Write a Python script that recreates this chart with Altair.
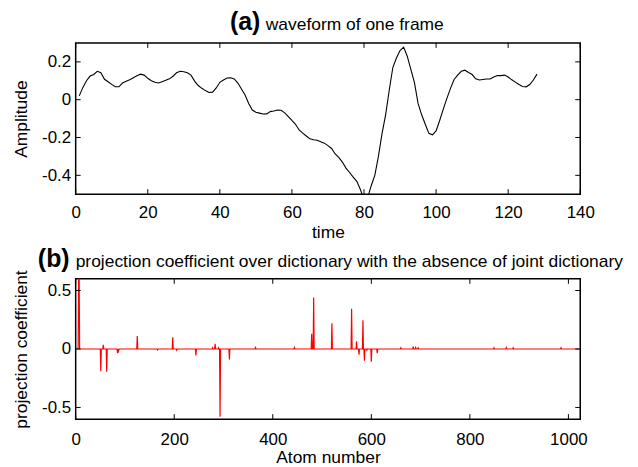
import altair as alt
import pandas as pd

# ---------------- data ----------------
time = list(range(1, 129))
amplitude = [
    0.020, 0.065, 0.100, 0.125, 0.133, 0.150, 0.143, 0.108, 0.095, 0.081,
    0.068, 0.068, 0.088, 0.097, 0.105, 0.116, 0.126, 0.135, 0.130, 0.113,
    0.100, 0.092, 0.088, 0.095, 0.103, 0.110, 0.124, 0.142, 0.150, 0.148,
    0.142, 0.130, 0.098, 0.075, 0.060, 0.048, 0.038, 0.040, 0.062, 0.092,
    0.104, 0.115, 0.116, 0.110, 0.088, 0.056, 0.025, -0.020, -0.055, -0.066,
    -0.071, -0.076, -0.075, -0.063, -0.060, -0.055, -0.056, -0.070, -0.089, -0.110,
    -0.130, -0.160, -0.177, -0.192, -0.207, -0.212, -0.215, -0.223, -0.230, -0.243,
    -0.258, -0.287, -0.305, -0.330, -0.362, -0.385, -0.410, -0.432, -0.475, -0.530,
    -0.520, -0.455, -0.400, -0.300, -0.180, -0.080, 0.050, 0.170, 0.220, 0.260,
    0.278, 0.230, 0.160, 0.090, -0.020, -0.080, -0.130, -0.178, -0.186, -0.165,
    -0.110, -0.050, 0.007, 0.060, 0.107, 0.130, 0.150, 0.156, 0.144, 0.133,
    0.110, 0.104, 0.107, 0.109, 0.109, 0.120, 0.128, 0.127, 0.130, 0.120,
    0.105, 0.093, 0.080, 0.070, 0.068, 0.080, 0.104, 0.135,
]

n_atoms = 1024
atom_index = [6, 7, 51, 56, 63, 85, 87, 125, 166, 197, 205, 244, 278, 283, 290,
              293, 312, 365, 444, 479, 483, 520, 560, 570, 575, 583, 586, 591,
              600, 612, 660, 685, 690, 695, 849, 874, 888, 985]
atom_coef = [0.68, 0.66, -0.19, 0.035, -0.195, -0.035, -0.015, 0.11, -0.008, 0.10,
             -0.01, -0.055, 0.01, 0.045, 0.01, -0.58, -0.09, 0.012, 0.012, 0.13,
             0.44, 0.22, 0.345, 0.065, -0.05, 0.245, -0.10, -0.01, -0.11, -0.035,
             0.01, 0.02, 0.012, 0.01, 0.01, 0.012, 0.01, 0.01]

x_ticks_a = [0, 20, 40, 60, 80, 100, 120, 140]
y_ticks_a = [-0.4, -0.2, 0, 0.2]
x_ticks_b = [0, 200, 400, 600, 800, 1000]
y_ticks_b = [-0.5, 0, 0.5]

title_a = ["(a)", "waveform of one frame"]
title_b = ["(b)", "projection coefficient over dictionary with the absence of joint dictionary"]

# ---------------- tables ----------------
df_a = pd.DataFrame({"time": time, "amp": amplitude})
coef = [0.0] * n_atoms
for i, v in zip(atom_index, atom_coef):
    coef[i - 1] = v
df_b = pd.DataFrame({"atom": list(range(1, n_atoms + 1)), "coef": coef})

FONT = "Liberation Sans, Arial, Helvetica, sans-serif"
W = 507
HA = 152
HB = 141
TK = 5

LABEL_EXPR = ("datum.value == 0 ? '0' : replace(format(datum.value, '.1f'), '\u2212', '-')")


def x_axis(values, title, pad):
    return alt.Axis(values=values, format="d", ticks=False, tickSize=0, domain=False,
                    grid=False, labelFont=FONT, labelFontSize=17, labelColor="black",
                    labelPadding=pad, labelFlush=False, labelOverlap=False,
                    title=title, titleFont=FONT, titleFontSize=17.5,
                    titleFontWeight="normal", titleColor="black",
                    titleBaseline="alphabetic", titleY=43.5)


def y_axis(values, title, h):
    return alt.Axis(values=values, ticks=False, tickSize=0, domain=False, grid=False,
                    labelFont=FONT, labelFontSize=17, labelColor="black",
                    labelPadding=5, labelExpr=LABEL_EXPR, labelOverlap=False,
                    title=title, titleFont=FONT, titleFontSize=17.5,
                    titleFontWeight="normal", titleColor="black",
                    titleBaseline="alphabetic", titleX=-49, titleY=h / 2)


def tick_layers(xvals, yvals, h, xax, yax):
    dx = pd.DataFrame({"v": xvals})
    dy = pd.DataFrame({"v": yvals})
    bot = alt.Chart(dx).mark_rule(color="black", strokeWidth=1).encode(
        x=alt.X("v:Q", axis=xax), y=alt.value(h), y2=alt.value(h - TK))
    top = alt.Chart(dx).mark_rule(color="black", strokeWidth=1).encode(
        x=alt.X("v:Q", axis=xax), y=alt.value(0), y2=alt.value(TK))
    left = alt.Chart(dy).mark_rule(color="black", strokeWidth=1).encode(
        y=alt.Y("v:Q", axis=yax), x=alt.value(0), x2=alt.value(TK))
    right = alt.Chart(dy).mark_rule(color="black", strokeWidth=1).encode(
        y=alt.Y("v:Q", axis=yax), x=alt.value(W), x2=alt.value(W - TK))
    return [bot, top, left, right]


def title_layers(parts, bold_x, text_x, base_y):
    d1 = pd.DataFrame({"t": [parts[0]]})
    d2 = pd.DataFrame({"t": [parts[1]]})
    t1 = alt.Chart(d1).mark_text(font=FONT, fontSize=25, fontWeight="bold", align="left",
                                 baseline="alphabetic", color="black").encode(
        x=alt.value(bold_x), y=alt.value(base_y), text="t:N")
    t2 = alt.Chart(d2).mark_text(font=FONT, fontSize=17.5, align="left",
                                 baseline="alphabetic", color="black").encode(
        x=alt.value(text_x), y=alt.value(base_y), text="t:N")
    return [t1, t2]


xa = x_axis(x_ticks_a, "time", 10)
ya = y_axis(y_ticks_a, "Amplitude", HA)
line_a = alt.Chart(df_a).mark_line(color="black", strokeWidth=1.1, clip=True).encode(
    x=alt.X("time:Q", scale=alt.Scale(domain=[0, 140], nice=False), axis=xa),
    y=alt.Y("amp:Q", scale=alt.Scale(domain=[-0.5, 0.3], nice=False, zero=False), axis=ya),
)

chart_a = alt.layer(line_a, *tick_layers(x_ticks_a, y_ticks_a, HA, xa, ya),
                    *title_layers(title_a, 155, 191, -13)).properties(width=W, height=HA)

xb = x_axis(x_ticks_b, "Atom number", 12)
yb = y_axis(y_ticks_b, "projection coefficient", HB)
line_b = alt.Chart(df_b).mark_line(color="#ff0000", strokeWidth=1.2, clip=True).encode(
    x=alt.X("atom:Q", scale=alt.Scale(domain=[0, 1024], nice=False), axis=xb),
    y=alt.Y("coef:Q", scale=alt.Scale(domain=[-0.6, 0.6], nice=False, zero=False), axis=yb),
)

chart_b = alt.layer(line_b, *tick_layers(x_ticks_b, y_ticks_b, HB, xb, yb),
                    *title_layers(title_b, -38, 0, -12)).properties(width=W, height=HB)

chart = alt.vconcat(chart_a, chart_b, spacing=85, bounds="flush").properties(
    padding={"left": 4, "top": 0, "right": 5, "bottom": 5},
    background="white",
).configure_view(stroke="black", strokeWidth=1.5)

chart.save("out.html", embed_options={"renderer": "svg", "actions": False})
